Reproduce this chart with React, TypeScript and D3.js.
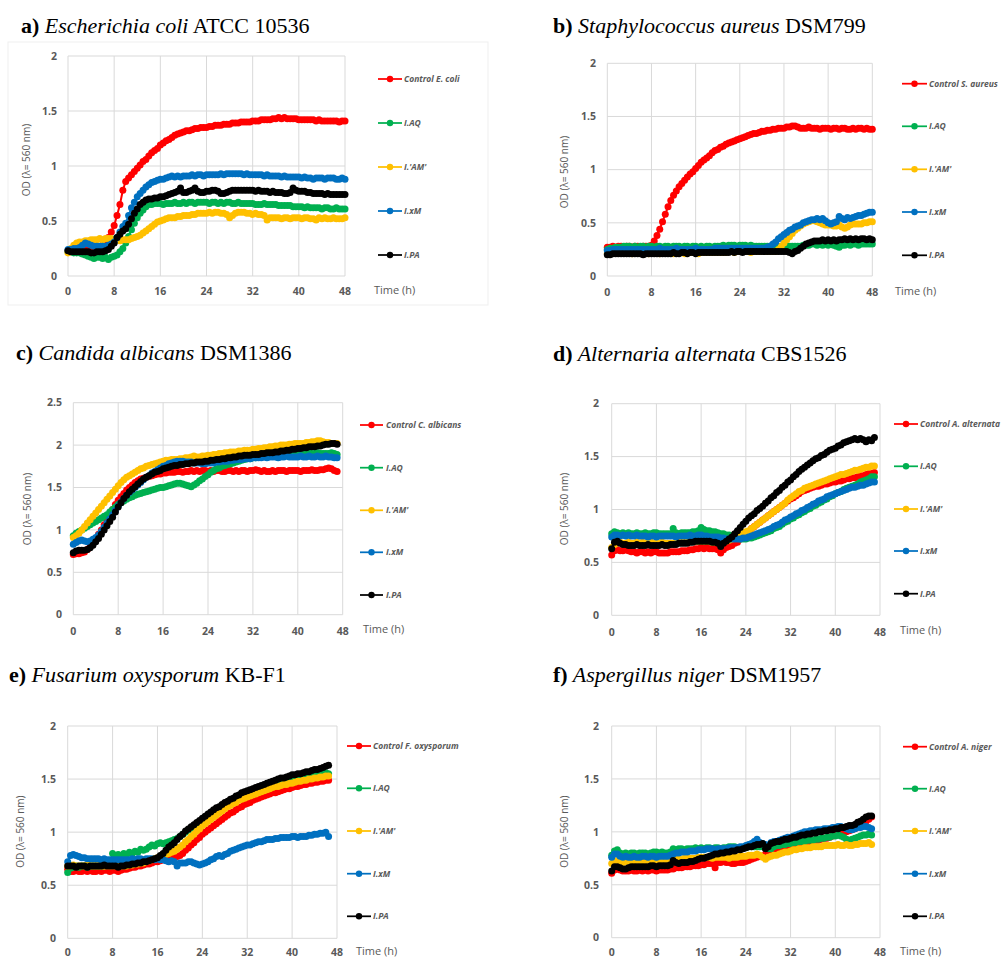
import React from 'react';
import * as d3 from 'd3';

// Sampling interval of the OD readings, in hours
const TIME_STEP = 0.5;
const X_TICKS = [0, 8, 16, 24, 32, 40, 48];
const SERIES_NAMES = ['Control', 'I.AQ', "I.'AM'", 'I.xM', 'I.PA'];
const SERIES_COLORS = ['#ff0000', '#00b050', '#ffc000', '#0070c0', '#000000'];

// ---- a) Escherichia coli ATCC 10536 (0–48 h) ----
const ECOLI_CONTROL = [
  0.23,0.23,0.22,0.23,0.23,0.23,0.24,0.23,0.24,0.24,
  0.25,0.26,0.28,0.31,0.35,0.40,0.46,0.55,0.65,0.78,
  0.86,0.89,0.92,0.95,0.98,1.01,1.04,1.06,1.09,1.12,
  1.14,1.16,1.19,1.21,1.23,1.24,1.26,1.28,1.29,1.30,
  1.31,1.32,1.32,1.33,1.34,1.34,1.35,1.35,1.35,1.36,
  1.36,1.37,1.37,1.37,1.38,1.38,1.38,1.39,1.39,1.39,
  1.40,1.40,1.40,1.40,1.41,1.41,1.41,1.42,1.42,1.42,
  1.42,1.43,1.43,1.44,1.43,1.44,1.43,1.43,1.43,1.43,
  1.42,1.42,1.42,1.42,1.42,1.42,1.41,1.42,1.41,1.41,
  1.41,1.41,1.41,1.41,1.40,1.41,1.41,
];
const ECOLI_AQ = [
  0.22,0.22,0.21,0.21,0.21,0.20,0.19,0.18,0.17,0.16,
  0.17,0.17,0.16,0.17,0.15,0.17,0.18,0.19,0.22,0.25,
  0.30,0.36,0.42,0.48,0.53,0.57,0.60,0.63,0.65,0.65,
  0.66,0.66,0.66,0.65,0.66,0.66,0.66,0.67,0.66,0.66,
  0.67,0.66,0.67,0.67,0.66,0.67,0.67,0.67,0.67,0.66,
  0.67,0.67,0.66,0.67,0.66,0.67,0.67,0.66,0.66,0.67,
  0.66,0.66,0.66,0.66,0.66,0.65,0.65,0.65,0.66,0.65,
  0.65,0.65,0.65,0.64,0.64,0.64,0.64,0.64,0.63,0.63,
  0.63,0.63,0.62,0.63,0.62,0.62,0.62,0.62,0.61,0.62,
  0.62,0.61,0.61,0.62,0.61,0.61,0.61,
];
const ECOLI_AM = [
  0.21,0.25,0.28,0.30,0.31,0.31,0.32,0.32,0.33,0.33,
  0.33,0.34,0.33,0.34,0.34,0.34,0.33,0.33,0.32,0.33,
  0.33,0.33,0.34,0.35,0.36,0.37,0.39,0.41,0.43,0.45,
  0.47,0.49,0.50,0.51,0.52,0.53,0.53,0.53,0.54,0.54,
  0.55,0.55,0.55,0.56,0.56,0.57,0.57,0.57,0.57,0.58,
  0.57,0.58,0.58,0.57,0.57,0.56,0.53,0.55,0.57,0.58,
  0.58,0.58,0.57,0.57,0.56,0.57,0.56,0.56,0.55,0.51,
  0.53,0.53,0.53,0.53,0.52,0.53,0.53,0.52,0.53,0.53,
  0.53,0.52,0.53,0.53,0.52,0.52,0.51,0.53,0.52,0.53,
  0.52,0.52,0.53,0.52,0.52,0.52,0.53,
];
const ECOLI_XM = [
  0.24,0.24,0.25,0.25,0.26,0.28,0.30,0.29,0.28,0.27,
  0.27,0.27,0.27,0.27,0.28,0.29,0.31,0.35,0.40,0.45,
  0.48,0.55,0.62,0.67,0.72,0.75,0.78,0.81,0.83,0.85,
  0.86,0.87,0.88,0.88,0.89,0.90,0.91,0.90,0.91,0.90,
  0.91,0.91,0.91,0.92,0.91,0.92,0.92,0.91,0.92,0.92,
  0.92,0.92,0.92,0.93,0.92,0.93,0.93,0.93,0.93,0.93,
  0.93,0.92,0.93,0.92,0.92,0.92,0.92,0.92,0.91,0.92,
  0.91,0.91,0.91,0.91,0.90,0.91,0.90,0.90,0.90,0.90,
  0.90,0.89,0.90,0.89,0.89,0.88,0.89,0.89,0.89,0.88,
  0.89,0.89,0.89,0.88,0.88,0.89,0.88,
];
const ECOLI_PA = [
  0.23,0.22,0.22,0.22,0.22,0.22,0.22,0.22,0.21,0.21,
  0.22,0.22,0.22,0.23,0.24,0.27,0.30,0.35,0.38,0.41,
  0.43,0.47,0.52,0.57,0.61,0.65,0.67,0.69,0.70,0.70,
  0.71,0.71,0.72,0.72,0.73,0.74,0.75,0.76,0.77,0.80,
  0.76,0.76,0.77,0.78,0.80,0.77,0.76,0.76,0.77,0.77,
  0.78,0.78,0.77,0.75,0.75,0.76,0.77,0.78,0.78,0.78,
  0.78,0.78,0.78,0.78,0.78,0.77,0.78,0.77,0.77,0.77,
  0.76,0.77,0.76,0.76,0.76,0.75,0.75,0.76,0.80,0.78,
  0.77,0.77,0.77,0.76,0.76,0.75,0.75,0.75,0.75,0.74,
  0.75,0.74,0.74,0.74,0.74,0.74,0.74,
];

// ---- b) Staphylococcus aureus DSM799 (0–48 h) ----
const SAUREUS_CONTROL = [
  0.27,0.27,0.28,0.27,0.28,0.28,0.27,0.28,0.28,0.27,
  0.28,0.28,0.27,0.28,0.28,0.28,0.29,0.33,0.38,0.44,
  0.51,0.58,0.65,0.71,0.76,0.80,0.84,0.87,0.90,0.93,
  0.96,0.98,1.01,1.04,1.07,1.09,1.11,1.13,1.16,1.18,
  1.19,1.21,1.22,1.24,1.25,1.26,1.27,1.28,1.29,1.30,
  1.31,1.32,1.33,1.34,1.34,1.35,1.36,1.36,1.37,1.37,
  1.38,1.38,1.39,1.39,1.39,1.40,1.40,1.41,1.41,1.40,
  1.39,1.39,1.39,1.40,1.39,1.39,1.39,1.38,1.39,1.39,
  1.39,1.38,1.39,1.39,1.38,1.39,1.39,1.38,1.38,1.39,
  1.38,1.39,1.39,1.38,1.39,1.38,1.38,
];
const SAUREUS_AQ = [
  0.25,0.26,0.26,0.27,0.27,0.27,0.28,0.28,0.28,0.27,
  0.28,0.27,0.28,0.28,0.27,0.28,0.28,0.27,0.28,0.28,
  0.27,0.28,0.28,0.27,0.28,0.28,0.28,0.27,0.28,0.28,
  0.27,0.28,0.28,0.27,0.28,0.27,0.28,0.28,0.27,0.28,
  0.28,0.28,0.29,0.28,0.29,0.29,0.29,0.28,0.29,0.29,
  0.29,0.28,0.29,0.28,0.28,0.28,0.28,0.28,0.28,0.28,
  0.28,0.28,0.28,0.28,0.28,0.28,0.28,0.28,0.28,0.28,
  0.28,0.29,0.29,0.29,0.30,0.30,0.29,0.30,0.29,0.30,
  0.29,0.30,0.29,0.28,0.27,0.29,0.29,0.30,0.29,0.30,
  0.30,0.29,0.30,0.30,0.30,0.30,0.30,
];
const SAUREUS_AM = [
  0.21,0.21,0.22,0.22,0.22,0.22,0.22,0.22,0.22,0.21,
  0.22,0.22,0.22,0.22,0.22,0.21,0.22,0.22,0.22,0.21,
  0.22,0.22,0.22,0.22,0.21,0.22,0.22,0.22,0.21,0.22,
  0.22,0.22,0.22,0.21,0.22,0.22,0.22,0.22,0.22,0.22,
  0.22,0.22,0.22,0.22,0.23,0.23,0.22,0.23,0.23,0.23,
  0.23,0.23,0.22,0.23,0.23,0.23,0.23,0.23,0.23,0.23,
  0.23,0.23,0.25,0.28,0.31,0.34,0.37,0.40,0.43,0.45,
  0.47,0.49,0.50,0.51,0.52,0.52,0.51,0.50,0.49,0.48,
  0.48,0.48,0.47,0.47,0.48,0.46,0.45,0.46,0.48,0.49,
  0.49,0.49,0.49,0.50,0.50,0.51,0.51,
];
const SAUREUS_XM = [
  0.24,0.24,0.25,0.25,0.25,0.25,0.25,0.25,0.25,0.25,
  0.25,0.25,0.25,0.25,0.25,0.25,0.25,0.25,0.25,0.26,
  0.25,0.25,0.25,0.25,0.25,0.26,0.25,0.25,0.25,0.25,
  0.25,0.25,0.26,0.25,0.25,0.25,0.25,0.25,0.25,0.26,
  0.26,0.26,0.26,0.26,0.26,0.26,0.26,0.26,0.26,0.26,
  0.26,0.26,0.26,0.26,0.26,0.26,0.26,0.26,0.27,0.28,
  0.30,0.32,0.35,0.37,0.39,0.41,0.43,0.44,0.46,0.47,
  0.48,0.50,0.51,0.52,0.53,0.53,0.54,0.53,0.54,0.52,
  0.50,0.49,0.50,0.51,0.56,0.54,0.53,0.55,0.54,0.55,
  0.56,0.57,0.57,0.58,0.59,0.60,0.60,
];
const SAUREUS_PA = [
  0.20,0.20,0.21,0.21,0.21,0.21,0.21,0.21,0.21,0.21,
  0.21,0.21,0.21,0.20,0.21,0.21,0.21,0.21,0.21,0.21,
  0.21,0.21,0.21,0.21,0.22,0.21,0.21,0.22,0.22,0.21,
  0.22,0.22,0.21,0.22,0.22,0.22,0.22,0.22,0.22,0.22,
  0.22,0.22,0.22,0.22,0.22,0.23,0.22,0.23,0.23,0.22,
  0.23,0.23,0.23,0.23,0.23,0.23,0.23,0.23,0.23,0.23,
  0.23,0.23,0.23,0.23,0.23,0.23,0.22,0.21,0.23,0.24,
  0.26,0.28,0.30,0.31,0.32,0.33,0.33,0.33,0.34,0.33,
  0.34,0.33,0.34,0.33,0.34,0.34,0.35,0.34,0.35,0.34,
  0.35,0.34,0.35,0.35,0.34,0.35,0.34,
];

// ---- c) Candida albicans DSM1386 (0–47 h) ----
const CALB_CONTROL = [
  0.71,0.72,0.72,0.73,0.74,0.77,0.80,0.85,0.90,0.95,
  1.00,1.06,1.12,1.18,1.24,1.30,1.35,1.39,1.43,1.47,
  1.50,1.53,1.56,1.58,1.60,1.61,1.62,1.63,1.64,1.65,
  1.66,1.66,1.67,1.67,1.68,1.68,1.68,1.69,1.69,1.68,
  1.69,1.69,1.70,1.69,1.70,1.69,1.70,1.70,1.69,1.70,
  1.69,1.70,1.70,1.69,1.69,1.70,1.70,1.69,1.70,1.69,
  1.70,1.70,1.69,1.70,1.70,1.71,1.70,1.69,1.70,1.69,
  1.69,1.70,1.69,1.70,1.70,1.70,1.69,1.70,1.70,1.70,
  1.70,1.69,1.70,1.70,1.70,1.71,1.70,1.70,1.71,1.71,
  1.72,1.73,1.72,1.70,1.69,
];
const CALB_AQ = [
  0.93,0.96,0.98,1.00,1.02,1.04,1.06,1.08,1.10,1.12,
  1.14,1.16,1.18,1.21,1.24,1.27,1.30,1.32,1.34,1.36,
  1.38,1.39,1.41,1.42,1.43,1.44,1.45,1.46,1.47,1.48,
  1.49,1.50,1.50,1.51,1.52,1.53,1.54,1.55,1.55,1.54,
  1.53,1.52,1.51,1.53,1.55,1.58,1.60,1.63,1.65,1.68,
  1.70,1.72,1.73,1.75,1.76,1.77,1.78,1.79,1.80,1.81,
  1.82,1.83,1.84,1.84,1.85,1.85,1.86,1.86,1.87,1.87,
  1.88,1.88,1.88,1.89,1.89,1.89,1.90,1.89,1.90,1.90,
  1.90,1.89,1.90,1.90,1.91,1.90,1.90,1.91,1.90,1.90,
  1.90,1.90,1.91,1.90,1.89,
];
const CALB_AM = [
  0.91,0.93,0.96,1.00,1.04,1.08,1.12,1.16,1.20,1.24,
  1.28,1.32,1.36,1.40,1.44,1.48,1.52,1.56,1.59,1.62,
  1.64,1.66,1.68,1.70,1.72,1.73,1.75,1.76,1.77,1.78,
  1.79,1.80,1.81,1.82,1.82,1.83,1.83,1.83,1.84,1.84,
  1.85,1.85,1.86,1.87,1.86,1.86,1.87,1.87,1.88,1.88,
  1.89,1.89,1.90,1.90,1.91,1.91,1.92,1.92,1.92,1.93,
  1.93,1.94,1.94,1.94,1.95,1.95,1.96,1.96,1.97,1.97,
  1.98,1.98,1.99,1.99,2.00,2.00,2.00,2.01,2.01,2.02,
  2.02,2.02,2.02,2.03,2.03,2.04,2.04,2.05,2.05,2.04,
  2.03,2.03,2.02,2.02,2.02,
];
const CALB_XM = [
  0.83,0.85,0.87,0.88,0.87,0.86,0.87,0.89,0.91,0.94,
  0.98,1.03,1.08,1.13,1.18,1.23,1.28,1.33,1.37,1.41,
  1.44,1.47,1.50,1.53,1.56,1.59,1.62,1.64,1.67,1.69,
  1.71,1.73,1.75,1.76,1.78,1.79,1.80,1.81,1.81,1.81,
  1.80,1.80,1.80,1.79,1.79,1.79,1.78,1.78,1.79,1.79,
  1.79,1.80,1.80,1.81,1.81,1.81,1.82,1.82,1.83,1.83,
  1.83,1.84,1.84,1.84,1.85,1.85,1.85,1.85,1.86,1.85,
  1.86,1.86,1.86,1.85,1.86,1.86,1.87,1.86,1.86,1.86,
  1.86,1.87,1.86,1.86,1.87,1.86,1.86,1.87,1.86,1.86,
  1.87,1.86,1.86,1.85,1.85,
];
const CALB_PA = [
  0.73,0.75,0.76,0.76,0.76,0.77,0.79,0.82,0.86,0.90,
  0.95,1.00,1.05,1.10,1.15,1.21,1.27,1.32,1.37,1.41,
  1.45,1.48,1.51,1.54,1.57,1.60,1.62,1.64,1.66,1.68,
  1.69,1.70,1.72,1.73,1.74,1.75,1.76,1.76,1.77,1.77,
  1.78,1.78,1.79,1.79,1.80,1.80,1.80,1.81,1.81,1.82,
  1.82,1.83,1.83,1.84,1.84,1.85,1.85,1.86,1.86,1.87,
  1.87,1.88,1.88,1.88,1.89,1.89,1.89,1.90,1.90,1.91,
  1.91,1.91,1.92,1.92,1.93,1.93,1.94,1.94,1.95,1.95,
  1.96,1.96,1.97,1.97,1.98,1.98,1.98,1.99,1.99,2.00,
  2.01,2.01,2.02,2.02,2.01,
];

// ---- d) Alternaria alternata CBS1526 (0–47 h) ----
const AALT_CONTROL = [
  0.57,0.61,0.62,0.61,0.61,0.62,0.61,0.60,0.60,0.59,
  0.60,0.60,0.59,0.60,0.59,0.60,0.60,0.59,0.59,0.59,
  0.59,0.60,0.60,0.60,0.60,0.61,0.61,0.61,0.62,0.62,
  0.63,0.63,0.64,0.63,0.64,0.63,0.63,0.63,0.62,0.59,
  0.62,0.64,0.65,0.66,0.68,0.69,0.72,0.74,0.77,0.79,
  0.82,0.84,0.86,0.88,0.90,0.92,0.94,0.96,0.98,1.00,
  1.02,1.04,1.06,1.08,1.10,1.11,1.13,1.15,1.17,1.18,
  1.19,1.20,1.21,1.22,1.22,1.23,1.24,1.24,1.25,1.26,
  1.26,1.27,1.27,1.28,1.29,1.29,1.30,1.30,1.31,1.32,
  1.32,1.33,1.34,1.34,1.35,
];
const AALT_AQ = [
  0.77,0.79,0.78,0.77,0.78,0.77,0.78,0.77,0.77,0.78,
  0.77,0.77,0.78,0.77,0.77,0.78,0.78,0.77,0.77,0.77,
  0.77,0.77,0.82,0.78,0.77,0.78,0.78,0.78,0.78,0.79,
  0.79,0.80,0.83,0.81,0.80,0.80,0.79,0.79,0.78,0.77,
  0.77,0.76,0.76,0.75,0.74,0.73,0.72,0.72,0.72,0.73,
  0.73,0.74,0.75,0.76,0.77,0.78,0.79,0.80,0.82,0.83,
  0.84,0.86,0.88,0.89,0.91,0.92,0.94,0.95,0.97,0.98,
  1.00,1.01,1.03,1.04,1.06,1.07,1.09,1.10,1.12,1.13,
  1.15,1.16,1.17,1.19,1.20,1.21,1.22,1.23,1.24,1.26,
  1.27,1.28,1.29,1.31,1.31,
];
const AALT_AM = [
  0.64,0.67,0.69,0.69,0.68,0.68,0.69,0.68,0.68,0.69,
  0.68,0.69,0.68,0.68,0.69,0.68,0.68,0.68,0.69,0.68,
  0.68,0.68,0.68,0.69,0.69,0.69,0.69,0.70,0.70,0.70,
  0.70,0.70,0.70,0.70,0.70,0.70,0.69,0.69,0.69,0.67,
  0.69,0.70,0.71,0.72,0.73,0.74,0.75,0.77,0.79,0.80,
  0.82,0.84,0.86,0.88,0.90,0.92,0.94,0.96,0.98,1.00,
  1.02,1.04,1.06,1.09,1.11,1.13,1.15,1.17,1.18,1.20,
  1.21,1.22,1.23,1.24,1.25,1.26,1.27,1.28,1.29,1.30,
  1.31,1.32,1.33,1.33,1.34,1.35,1.36,1.37,1.37,1.38,
  1.39,1.40,1.40,1.41,1.41,
];
const AALT_XM = [
  0.74,0.76,0.76,0.75,0.76,0.75,0.76,0.75,0.75,0.76,
  0.75,0.75,0.75,0.74,0.75,0.75,0.74,0.75,0.75,0.75,
  0.75,0.75,0.75,0.74,0.75,0.75,0.75,0.75,0.76,0.75,
  0.75,0.76,0.76,0.75,0.75,0.74,0.74,0.74,0.74,0.73,
  0.73,0.72,0.72,0.72,0.72,0.72,0.72,0.73,0.73,0.74,
  0.75,0.76,0.77,0.78,0.79,0.80,0.81,0.82,0.84,0.85,
  0.86,0.88,0.90,0.91,0.93,0.94,0.96,0.97,0.99,1.00,
  1.02,1.03,1.05,1.06,1.08,1.09,1.10,1.12,1.13,1.14,
  1.15,1.16,1.17,1.18,1.19,1.20,1.21,1.21,1.22,1.23,
  1.23,1.24,1.25,1.26,1.26,
];
const AALT_PA = [
  0.63,0.69,0.70,0.68,0.67,0.67,0.66,0.66,0.66,0.67,
  0.66,0.66,0.66,0.67,0.66,0.66,0.66,0.66,0.67,0.66,
  0.66,0.67,0.67,0.67,0.68,0.68,0.68,0.68,0.69,0.69,
  0.70,0.70,0.70,0.70,0.70,0.70,0.69,0.69,0.68,0.65,
  0.68,0.70,0.72,0.74,0.77,0.80,0.83,0.86,0.89,0.92,
  0.94,0.96,0.99,1.01,1.03,1.06,1.08,1.11,1.13,1.16,
  1.18,1.21,1.23,1.26,1.28,1.31,1.33,1.36,1.38,1.40,
  1.42,1.44,1.46,1.48,1.49,1.51,1.52,1.54,1.56,1.57,
  1.58,1.60,1.61,1.63,1.64,1.65,1.66,1.67,1.66,1.67,
  1.66,1.64,1.66,1.65,1.68,
];

// ---- e) Fusarium oxysporum KB-F1 (0–46.5 h) ----
const FOXY_CONTROL = [
  0.65,0.63,0.63,0.64,0.63,0.63,0.64,0.63,0.64,0.63,
  0.63,0.64,0.63,0.64,0.64,0.63,0.64,0.64,0.63,0.64,
  0.65,0.65,0.66,0.67,0.67,0.68,0.68,0.69,0.70,0.70,
  0.71,0.72,0.72,0.73,0.74,0.74,0.75,0.76,0.76,0.77,
  0.78,0.80,0.83,0.85,0.88,0.90,0.93,0.95,0.98,1.00,
  1.02,1.04,1.06,1.08,1.10,1.12,1.14,1.16,1.18,1.19,
  1.21,1.23,1.24,1.26,1.27,1.28,1.30,1.31,1.32,1.33,
  1.34,1.35,1.36,1.37,1.37,1.38,1.39,1.40,1.41,1.41,
  1.42,1.43,1.43,1.44,1.45,1.45,1.46,1.46,1.47,1.47,
  1.48,1.48,1.49,1.49,
];
const FOXY_AQ = [
  0.62,0.66,0.67,0.68,0.67,0.68,0.68,0.67,0.68,0.68,
  0.68,0.68,0.68,0.68,0.69,0.69,0.80,0.78,0.79,0.78,
  0.80,0.79,0.81,0.80,0.82,0.81,0.84,0.83,0.84,0.86,
  0.88,0.87,0.89,0.90,0.89,0.90,0.91,0.92,0.93,0.94,
  0.96,0.98,1.00,1.02,1.04,1.06,1.08,1.10,1.12,1.14,
  1.16,1.18,1.20,1.21,1.23,1.25,1.26,1.28,1.29,1.31,
  1.32,1.33,1.35,1.36,1.37,1.38,1.39,1.40,1.41,1.42,
  1.43,1.44,1.45,1.45,1.46,1.47,1.48,1.48,1.49,1.50,
  1.50,1.51,1.51,1.52,1.53,1.53,1.54,1.54,1.55,1.55,
  1.56,1.56,1.56,1.55,
];
const FOXY_AM = [
  0.68,0.68,0.69,0.68,0.68,0.68,0.68,0.69,0.68,0.68,
  0.68,0.68,0.68,0.68,0.68,0.68,0.68,0.68,0.68,0.68,
  0.68,0.68,0.69,0.69,0.70,0.70,0.71,0.71,0.72,0.73,
  0.74,0.75,0.76,0.77,0.78,0.79,0.80,0.81,0.82,0.84,
  0.86,0.88,0.91,0.93,0.96,0.98,1.01,1.03,1.06,1.08,
  1.10,1.12,1.14,1.16,1.18,1.20,1.22,1.24,1.25,1.27,
  1.28,1.30,1.31,1.32,1.33,1.34,1.35,1.36,1.37,1.38,
  1.39,1.40,1.41,1.42,1.43,1.43,1.44,1.45,1.45,1.46,
  1.46,1.47,1.48,1.48,1.49,1.49,1.50,1.50,1.51,1.51,
  1.52,1.52,1.53,1.53,
];
const FOXY_XM = [
  0.72,0.78,0.79,0.78,0.77,0.76,0.76,0.75,0.75,0.75,
  0.75,0.75,0.74,0.75,0.74,0.74,0.74,0.74,0.74,0.74,
  0.74,0.74,0.74,0.75,0.74,0.75,0.75,0.74,0.75,0.75,
  0.75,0.74,0.75,0.74,0.74,0.73,0.72,0.73,0.72,0.68,
  0.71,0.71,0.71,0.72,0.72,0.71,0.70,0.69,0.70,0.71,
  0.72,0.74,0.75,0.77,0.78,0.77,0.79,0.80,0.82,0.83,
  0.84,0.85,0.86,0.87,0.88,0.88,0.89,0.90,0.91,0.91,
  0.92,0.93,0.93,0.93,0.94,0.94,0.95,0.95,0.95,0.95,
  0.96,0.96,0.95,0.96,0.96,0.96,0.97,0.97,0.98,0.98,
  0.99,0.99,1.00,0.96,
];
const FOXY_PA = [
  0.68,0.68,0.68,0.67,0.68,0.68,0.68,0.67,0.68,0.68,
  0.68,0.68,0.68,0.69,0.68,0.68,0.68,0.68,0.67,0.68,
  0.68,0.69,0.69,0.70,0.70,0.71,0.71,0.72,0.72,0.73,
  0.74,0.75,0.76,0.78,0.80,0.83,0.86,0.88,0.90,0.93,
  0.96,0.98,1.01,1.03,1.05,1.07,1.09,1.11,1.13,1.15,
  1.17,1.19,1.21,1.23,1.24,1.26,1.28,1.29,1.31,1.32,
  1.34,1.35,1.37,1.38,1.39,1.40,1.41,1.42,1.43,1.44,
  1.45,1.46,1.47,1.48,1.49,1.50,1.51,1.51,1.52,1.53,
  1.54,1.54,1.55,1.55,1.56,1.57,1.57,1.58,1.59,1.59,
  1.60,1.61,1.62,1.63,
];

// ---- f) Aspergillus niger DSM1957 (0–46.5 h) ----
const ANIG_CONTROL = [
  0.61,0.64,0.65,0.64,0.63,0.63,0.63,0.64,0.63,0.63,
  0.64,0.63,0.64,0.63,0.64,0.64,0.63,0.64,0.64,0.64,
  0.64,0.65,0.65,0.66,0.66,0.66,0.67,0.67,0.67,0.68,
  0.68,0.68,0.69,0.69,0.70,0.70,0.70,0.66,0.71,0.71,
  0.72,0.71,0.71,0.70,0.70,0.71,0.71,0.71,0.72,0.73,
  0.74,0.75,0.76,0.77,0.77,0.79,0.80,0.81,0.82,0.83,
  0.83,0.84,0.85,0.86,0.86,0.87,0.88,0.89,0.89,0.90,
  0.90,0.91,0.92,0.92,0.92,0.93,0.94,0.94,0.95,0.96,
  0.97,0.98,0.99,1.00,1.00,1.01,1.02,1.03,1.05,1.06,
  1.08,1.10,1.12,1.14,
];
const ANIG_AQ = [
  0.78,0.82,0.83,0.80,0.79,0.80,0.79,0.80,0.80,0.79,
  0.80,0.80,0.80,0.79,0.80,0.81,0.81,0.80,0.81,0.80,
  0.80,0.81,0.84,0.83,0.84,0.84,0.83,0.84,0.84,0.84,
  0.85,0.84,0.85,0.84,0.85,0.85,0.84,0.85,0.85,0.84,
  0.85,0.85,0.86,0.86,0.86,0.85,0.85,0.85,0.85,0.86,
  0.86,0.86,0.86,0.86,0.86,0.85,0.84,0.84,0.86,0.87,
  0.87,0.88,0.88,0.89,0.89,0.90,0.90,0.91,0.91,0.91,
  0.92,0.92,0.92,0.93,0.93,0.94,0.94,0.95,0.95,0.96,
  0.96,0.97,0.96,0.95,0.93,0.92,0.93,0.94,0.95,0.96,
  0.97,0.97,0.98,0.97,
];
const ANIG_AM = [
  0.70,0.72,0.73,0.72,0.71,0.72,0.72,0.72,0.72,0.72,
  0.72,0.73,0.72,0.72,0.73,0.72,0.73,0.73,0.73,0.72,
  0.73,0.73,0.74,0.74,0.74,0.74,0.75,0.75,0.75,0.75,
  0.75,0.76,0.76,0.76,0.76,0.76,0.75,0.76,0.76,0.76,
  0.76,0.76,0.75,0.76,0.76,0.76,0.77,0.77,0.77,0.78,
  0.78,0.78,0.79,0.78,0.76,0.74,0.76,0.77,0.78,0.78,
  0.79,0.80,0.81,0.81,0.82,0.83,0.83,0.84,0.84,0.85,
  0.85,0.85,0.86,0.86,0.86,0.86,0.87,0.87,0.87,0.87,
  0.87,0.88,0.87,0.87,0.88,0.87,0.87,0.88,0.88,0.89,
  0.89,0.89,0.90,0.88,
];
const ANIG_XM = [
  0.76,0.79,0.79,0.77,0.76,0.77,0.76,0.76,0.77,0.76,
  0.76,0.77,0.77,0.76,0.77,0.77,0.76,0.77,0.77,0.77,
  0.77,0.78,0.79,0.80,0.80,0.81,0.81,0.81,0.82,0.82,
  0.82,0.83,0.83,0.83,0.84,0.84,0.84,0.83,0.84,0.84,
  0.84,0.84,0.85,0.85,0.85,0.85,0.86,0.86,0.87,0.88,
  0.89,0.91,0.93,0.90,0.89,0.88,0.87,0.90,0.91,0.91,
  0.92,0.93,0.94,0.95,0.95,0.96,0.97,0.98,0.99,1.00,
  1.00,1.01,1.01,1.02,1.02,1.02,1.03,1.03,1.03,1.04,
  1.04,1.05,1.05,1.04,1.03,1.02,1.02,1.03,1.04,1.04,
  1.05,1.05,1.04,1.03,
];
const ANIG_PA = [
  0.63,0.67,0.67,0.66,0.65,0.65,0.66,0.67,0.67,0.67,
  0.67,0.67,0.67,0.67,0.68,0.68,0.67,0.68,0.68,0.68,
  0.68,0.69,0.73,0.71,0.70,0.71,0.71,0.71,0.72,0.72,
  0.73,0.74,0.75,0.75,0.76,0.77,0.78,0.79,0.79,0.80,
  0.80,0.81,0.81,0.82,0.82,0.83,0.83,0.84,0.85,0.86,
  0.86,0.87,0.88,0.88,0.89,0.84,0.86,0.89,0.90,0.91,
  0.91,0.92,0.93,0.93,0.94,0.95,0.95,0.96,0.97,0.97,
  0.98,0.98,0.99,0.99,1.00,1.00,1.01,1.01,1.02,1.02,
  1.03,1.03,1.04,1.04,1.05,1.06,1.06,1.07,1.09,1.10,
  1.12,1.14,1.15,1.15,
];

// Panel layout: plot rectangle, label anchors and legend rows (page pixels)
const PANELS = [
  {
    title: ['a)', 'Escherichia coli', 'ATCC 10536'], titleX: 21, titleY: 33,
    control: 'Control E. coli',
    series: [ECOLI_CONTROL, ECOLI_AQ, ECOLI_AM, ECOLI_XM, ECOLI_PA],
    left: 68, right: 345, top: 56, bottom: 276, yMax: 2,
    yLabelX: 57, xLabelY: 295, timeX: 374, timeY: 294,
    yTitleX: 26, yTitleY: 160,
    legX1: 378, legX2: 402, legTextX: 404, legY: [79, 123, 167, 211, 255],
    frame: { x: 8, y: 42, w: 480, h: 263 },
  },
  {
    title: ['b)', 'Staphylococcus aureus', 'DSM799'], titleX: 553, titleY: 33,
    control: 'Control S. aureus',
    series: [SAUREUS_CONTROL, SAUREUS_AQ, SAUREUS_AM, SAUREUS_XM, SAUREUS_PA],
    left: 607.3, right: 872.3, top: 63.3, bottom: 276, yMax: 2,
    yLabelX: 596, xLabelY: 296, timeX: 895, timeY: 295,
    yTitleX: 564, yTitleY: 172,
    legX1: 902, legX2: 927, legTextX: 929, legY: [83.7, 126.3, 169.3, 212, 255.3],
  },
  {
    title: ['c)', 'Candida albicans', 'DSM1386'], titleX: 16, titleY: 360,
    control: 'Control C. albicans',
    series: [CALB_CONTROL, CALB_AQ, CALB_AM, CALB_XM, CALB_PA],
    left: 73.3, right: 342.7, top: 402.7, bottom: 614.7, yMax: 2.5,
    yLabelX: 62, xLabelY: 635, timeX: 363, timeY: 633,
    yTitleX: 27, yTitleY: 509,
    legX1: 360, legX2: 383, legTextX: 386, legY: [425, 467.7, 510.3, 552.3, 595],
  },
  {
    title: ['d)', 'Alternaria alternata', 'CBS1526'], titleX: 553, titleY: 361,
    control: 'Control A. alternata',
    series: [AALT_CONTROL, AALT_AQ, AALT_AM, AALT_XM, AALT_PA],
    left: 611.7, right: 880, top: 403.7, bottom: 615.3, yMax: 2,
    yLabelX: 599, xLabelY: 636, timeX: 900, timeY: 634,
    yTitleX: 564, yTitleY: 509,
    legX1: 894, legX2: 918, legTextX: 920, legY: [424, 466.3, 509, 551, 593.7],
  },
  {
    title: ['e)', 'Fusarium oxysporum', 'KB-F1'], titleX: 9, titleY: 682,
    control: 'Control F. oxysporum',
    series: [FOXY_CONTROL, FOXY_AQ, FOXY_AM, FOXY_XM, FOXY_PA],
    left: 67.7, right: 337, top: 726, bottom: 938.3, yMax: 2,
    yLabelX: 56, xLabelY: 955.5, timeX: 356, timeY: 954.5,
    yTitleX: 20, yTitleY: 831.7,
    legX1: 347, legX2: 371, legTextX: 373, legY: [746, 788.3, 831, 873.7, 916.3],
  },
  {
    title: ['f)', 'Aspergillus niger', 'DSM1957'], titleX: 553, titleY: 682,
    control: 'Control A. niger',
    series: [ANIG_CONTROL, ANIG_AQ, ANIG_AM, ANIG_XM, ANIG_PA],
    left: 611.7, right: 880, top: 726, bottom: 937.7, yMax: 2,
    yLabelX: 599, xLabelY: 955.5, timeX: 900, timeY: 954.5,
    yTitleX: 564, yTitleY: 831.7,
    legX1: 903, legX2: 927, legTextX: 929, legY: [746.7, 788.7, 831, 873.7, 916.3],
  },
];

const AXIS_FONT = '"Open Sans", "DejaVu Sans", sans-serif';
const TITLE_FONT = '"Liberation Serif", "Times New Roman", serif';
const LABEL_COLOR = '#595959';
const GRID_COLOR = '#d9d9d9';
const MARKER_R = 3.5;

function Panel({ p }: { p: (typeof PANELS)[number] }) {
  const x = d3.scaleLinear().domain([0, 48]).range([p.left, p.right]);
  const y = d3.scaleLinear().domain([0, p.yMax]).range([p.bottom, p.top]);
  const yTicks = d3.range(0, p.yMax + 0.001, 0.5);
  const line = d3
    .line<number>()
    .x((_, i) => x(i * TIME_STEP))
    .y((d) => y(d));
  const fmt = (v: number) => String(+v.toFixed(1));

  return (
    <g>
      {p.frame && (
        <rect x={p.frame.x} y={p.frame.y} width={p.frame.w} height={p.frame.h}
          fill="none" stroke="#efefef" strokeWidth={1} />
      )}
      <text x={p.titleX} y={p.titleY} fontFamily={TITLE_FONT} fontSize={22} fill="#000">
        <tspan fontWeight="bold">{p.title[0]}</tspan>
        <tspan fontStyle="italic">{' ' + p.title[1]}</tspan>
        <tspan>{' ' + p.title[2]}</tspan>
      </text>

      {yTicks.map((t) => (
        <line key={'hy' + t} x1={p.left} x2={p.right} y1={y(t)} y2={y(t)}
          stroke={GRID_COLOR} strokeWidth={1} />
      ))}
      {X_TICKS.map((t) => (
        <line key={'vx' + t} x1={x(t)} x2={x(t)} y1={p.top} y2={p.bottom}
          stroke={GRID_COLOR} strokeWidth={1} />
      ))}

      {yTicks.map((t) => (
        <text key={'ly' + t} x={p.yLabelX} y={y(t)} dy="0.36em" textAnchor="end"
          fontFamily={AXIS_FONT} fontSize={10.5} fontWeight={700} fill={LABEL_COLOR}>
          {fmt(t)}
        </text>
      ))}
      {X_TICKS.map((t) => (
        <text key={'lx' + t} x={x(t)} y={p.xLabelY} textAnchor="middle"
          fontFamily={AXIS_FONT} fontSize={10.5} fontWeight={700} fill={LABEL_COLOR}>
          {t}
        </text>
      ))}
      <text x={p.timeX} y={p.timeY} fontFamily={AXIS_FONT} fontSize={11} fill={LABEL_COLOR}>
        Time (h)
      </text>
      <text transform={`translate(${p.yTitleX},${p.yTitleY}) rotate(-90)`} textAnchor="middle"
        dy="0.35em" fontFamily={AXIS_FONT} fontSize={10} fill={LABEL_COLOR}>
        OD (λ= 560 nm)
      </text>

      {p.series.map((vals, si) => (
        <g key={'s' + si}>
          <path d={line(vals) || ''} fill="none" stroke={SERIES_COLORS[si]} strokeWidth={2} />
          {vals.map((v, i) => (
            <circle key={i} cx={x(i * TIME_STEP)} cy={y(v)} r={MARKER_R} fill={SERIES_COLORS[si]} />
          ))}
        </g>
      ))}

      {SERIES_NAMES.map((name, si) => (
        <g key={'lg' + si}>
          <line x1={p.legX1} x2={p.legX2} y1={p.legY[si]} y2={p.legY[si]}
            stroke={SERIES_COLORS[si]} strokeWidth={1.75} />
          <circle cx={(p.legX1 + p.legX2) / 2} cy={p.legY[si]} r={3.2} fill={SERIES_COLORS[si]} />
          <text x={p.legTextX} y={p.legY[si]} dy="0.35em" fontFamily={AXIS_FONT} fontSize={8.5}
            fontWeight={700} fontStyle="italic" fill={LABEL_COLOR}>
            {si === 0 ? p.control : name}
          </text>
        </g>
      ))}
    </g>
  );
}

export default function App() {
  return (
    <svg width={1004} height={958} viewBox="0 0 1004 958"
      style={{ position: 'absolute', left: 0, top: 0, background: '#fff' }}>
      <rect x={0} y={0} width={1004} height={958} fill="#fff" />
      {PANELS.map((p, i) => (
        <Panel key={i} p={p} />
      ))}
    </svg>
  );
}
